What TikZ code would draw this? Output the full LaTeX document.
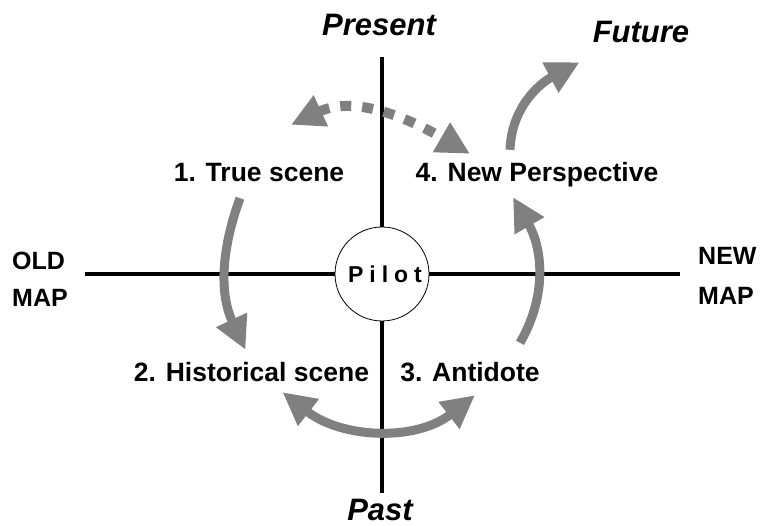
\documentclass[tikz,border=0pt]{standalone}
\usepackage{fontspec}
\setmainfont{Liberation Sans}
\usetikzlibrary{arrows.meta}

\begin{document}
\begin{tikzpicture}[
    x=1pt, y=1pt,
    >={Triangle[length=33pt,width=32pt]},
    lbl/.style = {font=\fontsize{26.5}{30}\selectfont\bfseries, inner sep=0pt,
                  text height=19pt, text depth=5pt, anchor=base},
    mapl/.style = {font=\fontsize{25}{28}\selectfont\bfseries, inner sep=0pt, anchor=base west},
    era/.style = {font=\fontsize{31}{34}\selectfont\bfseries\itshape, inner sep=0pt,
                  text height=22pt, text depth=6pt, anchor=base},
    axis/.style = {line width=4pt},
    flow/.style = {draw=gray, line width=9pt, ->},
    twoway/.style = {draw=gray, line width=9pt, <->},
    hint/.style = {draw=gray, line width=10pt, dash pattern=on 11pt off 11pt, <->}
  ]
    \useasboundingbox (0,0) rectangle (760,526);

    % axes round the pilot
    \coordinate (ntop) at (382,469);
    \coordinate (nbot) at (382,33);
    \coordinate (nleft) at (85,252);
    \coordinate (nright) at (680,252);
    \node[draw, circle, minimum size=94pt, inner sep=0pt, line width=0.8pt, fill=white] (pilot) at (382,252)
      {\hspace*{6pt}\fontsize{23}{24}\selectfont\bfseries\addfontfeature{LetterSpace=26}Pilot};

    \draw[axis] (ntop) -- (pilot.north);
    \draw[axis] (pilot.south) -- (nbot);
    \draw[axis] (nleft) -- (pilot.west);
    \draw[axis] (pilot.east) -- (nright);

    \node[era] (present) at (379,490) {Present};
    \node[era] (past) at (380,5) {Past};
    \node[era] (future) at (641,483) {Future};

    \node[mapl] (old) at (12,256) {OLD};
    \node[mapl] (oldmap) at (12,219) {MAP};
    \node[mapl] (new) at (698,261) {NEW};
    \node[mapl] (newmap) at (698,221) {MAP};

    % the four scenes
    \node[lbl] (true) at (259,344) {1. True scene};
    \node[lbl] (newp) at (537,344) {4. New Perspective};
    \node[lbl] (hist) at (251.5,144) {2. Historical scene};
    \node[lbl] (anti) at (470,144) {3. Antidote};

    \draw[flow] ([xshift=-19pt,yshift=-11pt]true.south) to[out=250, in=115] ([xshift=-6pt,yshift=13pt]hist.north);
    \draw[flow] ([xshift=50pt,yshift=20pt]anti.north) to[out=60, in=300] ([xshift=-24pt,yshift=-10pt]newp.south);
    \draw[twoway] ([xshift=31pt,yshift=-5pt]hist.south) to[out=-38, in=218] ([xshift=5pt,yshift=-8pt]anti.south);
    \draw[hint] ([xshift=32pt,yshift=38pt]true.north) to[out=25, in=150] ([xshift=-67pt,yshift=9pt]newp.north);
    \draw[flow] ([xshift=-27pt,yshift=13pt]newp.north) to[out=88, in=208] ([xshift=-13pt,yshift=-13pt]future.south west);

  \end{tikzpicture}
\end{document}
